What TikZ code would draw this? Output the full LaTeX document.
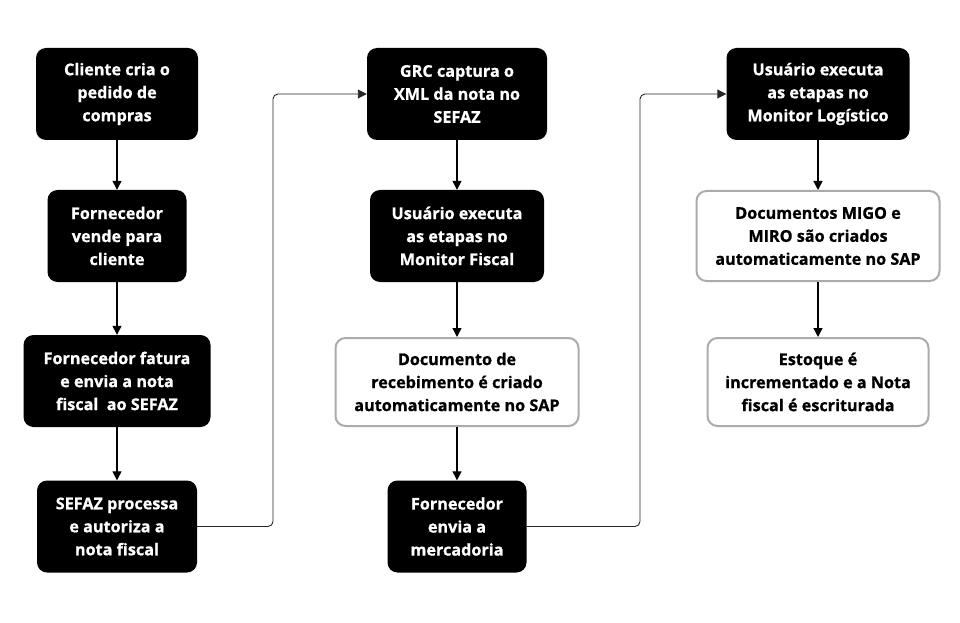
\documentclass[tikz,border=0pt]{standalone}
\usepackage{fontspec}
\setmainfont{Open Sans}[BoldFeatures={FakeBold=0.8}]
\usetikzlibrary{arrows.meta}
\begin{document}
\begin{tikzpicture}[x=1pt,y=1pt,
  base/.style={rounded corners=10pt, align=center, inner sep=0pt,
    font=\fontsize{16.2}{23}\selectfont\bfseries, minimum height=92pt},
  dark/.style={base, fill=black, text=white},
  light/.style={base, fill=white, draw=black!33, line width=2pt, text=black},
  arr/.style={-{Triangle[length=9pt,width=9pt]}, line width=1.3pt},
  elbow/.style={-{Triangle[length=9pt,width=9pt]}, line width=0.9pt, rounded corners=5pt, draw=black!85}
]
\useasboundingbox (0,0) rectangle (960,622);
\node[dark, minimum width=162pt] (a) at (117,528) {Cliente cria o\\pedido de\\compras};
\node[dark, minimum width=139pt] (b) at (117,386) {Fornecedor\\vende para\\cliente};
\node[dark, minimum width=187pt] (c) at (117,241) {Fornecedor fatura\\e envia a nota\\fiscal\ \ ao SEFAZ};
\node[dark, minimum width=160pt] (d) at (117,95.5) {SEFAZ processa\\e autoriza a\\nota fiscal};
\node[dark, minimum width=180pt] (e) at (457,528) {GRC captura o\\XML da nota no\\SEFAZ};
\node[dark, minimum width=174pt] (f) at (457,386) {Usuário executa\\as etapas no\\Monitor Fiscal};
\node[light, minimum width=243pt, minimum height=88pt] (g) at (457,240) {Documento de\\recebimento é criado\\automaticamente no SAP};
\node[dark, minimum width=139pt] (h) at (457,95.5) {Fornecedor\\envia a\\mercadoria};
\node[dark, minimum width=183pt] (i) at (818,528) {Usuário executa\\as etapas no\\Monitor Logístico};
\node[light, minimum width=243pt, minimum height=90pt] (j) at (818,386) {Documentos MIGO e\\MIRO são criados\\automaticamente no SAP};
\node[light, minimum width=221pt, minimum height=88pt] (k) at (818,240) {Estoque é\\incrementado e a Nota\\fiscal é escriturada};
\draw[arr] (a) -- (b);
\draw[arr] (b) -- (c);
\draw[arr] (c) -- (d);
\draw[arr] (e) -- (f);
\draw[arr] (f) -- (g);
\draw[arr] (g) -- (h);
\draw[arr] (i) -- (j);
\draw[arr] (j) -- (k);
\coordinate (m1) at (273,0);
\coordinate (m2) at (640,0);
\draw[elbow] (d.east) -| (m1 |- e.west) -- (e.west);
\draw[elbow] (h.east) -| (m2 |- i.west) -- (i.west);
\end{tikzpicture}
\end{document}
